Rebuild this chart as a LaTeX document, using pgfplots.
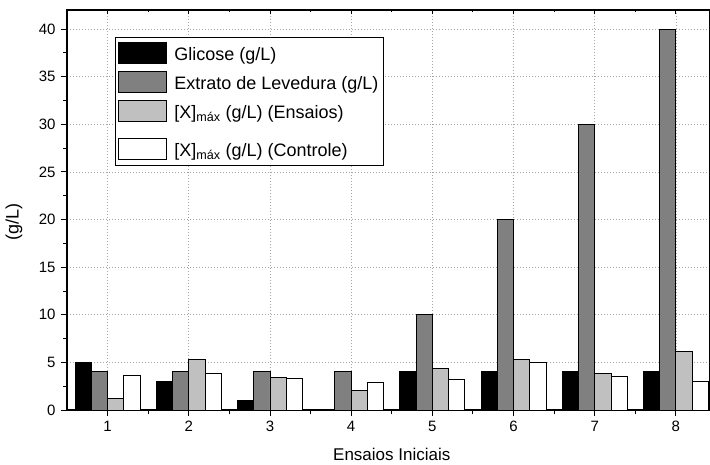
\documentclass[border=0pt]{standalone}
\usepackage{pgfplots}
\usepackage{pgfplotstable}
\pgfplotsset{compat=1.18}
\usepackage{fontspec}
\setmainfont{Liberation Sans}

\definecolor{cinzaescuro}{HTML}{808080}
\definecolor{cinzaclaro}{HTML}{C0C0C0}

% Concentrações por ensaio (g/L)
\pgfplotstableread{
ensaio glicose extrato xens xctrl
1 5 4  1.23 3.60
2 3 4  5.28 3.80
3 1 4  3.44 3.27
4 0 4  2.04 2.85
5 4 10 4.33 3.17
6 4 20 5.31 4.96
7 4 30 3.87 3.48
8 4 40 6.12 2.99
}\dados

\pgfplotsset{
  caixa legenda/.style={
    legend image code/.code={%
      \draw[##1] (0bp,-9bp) rectangle (48bp,12bp);
      \path (53bp,0bp);}
  },
  % last entry sits a little lower, below the subscript of the row above
  caixa legenda baixa/.style={
    legend image code/.code={%
      \draw[##1] (0bp,-9bp) rectangle (48bp,12bp);
      \path (53bp,0bp) (0bp,21bp);}
  },
}
\newcommand{\Xmax}{\mbox{[X]}\textsubscript{máx}}

\begin{document}
\begin{tikzpicture}
\begin{axis}[
  scale only axis,
  width=643bp, height=400bp,
  xmin=0.5, xmax=8.42,
  ymin=0, ymax=42,
  ybar=0pt, bar width=0.2,
  xtick={1,...,8},
  minor x tick num=1,
  ytick={0,5,...,40},
  minor y tick num=1,
  tick align=outside,
  tick pos=left,
  major tick length=6bp,
  minor tick length=3.5bp,
  every tick/.style={black, line width=0.9bp},
  axis line style={black, line width=1.2bp},
  grid=major,
  major grid style={dash pattern=on 1bp off 2bp, gray!70, line width=0.8bp},
  /pgf/number format/assume math mode=true,
  tick label style={font=\fontsize{15bp}{17bp}\selectfont},
  xticklabel style={yshift=-2bp},
  yticklabel style={xshift=-2bp},
  xlabel={Ensaios Iniciais},
  xlabel style={at={(axis cs:4.5,0)}, anchor=base, yshift=-50bp,
    font=\fontsize{17bp}{19bp}\selectfont},
  ylabel={(g/L)},
  ylabel style={at={(rel axis cs:0,0.47)}, anchor=center,
    yshift=53bp, font=\fontsize{18bp}{20bp}\selectfont},
  legend style={
    at={(rel axis cs:0.0747,0.9325)}, anchor=north west,
    draw=black, line width=0.8bp, fill=white,
    font=\fontsize{18bp}{19bp}\selectfont,
    inner xsep=3bp, inner ysep=5bp,
    row sep=7bp,
  },
  legend cell align=left,
]
\addplot[fill=black, draw=black, line width=0.9bp, caixa legenda]
  table[x=ensaio, y=glicose] {\dados};
\addlegendentry{Glicose (g/L)}
\addplot[fill=cinzaescuro, draw=black, line width=0.9bp, caixa legenda]
  table[x=ensaio, y=extrato] {\dados};
\addlegendentry{Extrato de Levedura (g/L)}
\addplot[fill=cinzaclaro, draw=black, line width=0.9bp, caixa legenda]
  table[x=ensaio, y=xens] {\dados};
\addlegendentry{\Xmax{} (g/L) (Ensaios)}
\addplot[fill=white, draw=black, line width=0.9bp, caixa legenda baixa]
  table[x=ensaio, y=xctrl] {\dados};
\addlegendentry{\Xmax{} (g/L) (Controle)}
% short inward ticks along the top edge
\pgfplotsinvokeforeach{1,...,8}{
  \draw[black, line width=0.9bp] (axis cs:#1,42) -- ([yshift=-4bp]axis cs:#1,42);
}
\pgfplotsinvokeforeach{1.5,2.5,...,7.5}{
  \draw[black, line width=0.9bp] (axis cs:#1,42) -- ([yshift=-2.5bp]axis cs:#1,42);
}
\end{axis}
\pgfresetboundingbox
\path ([xshift=-67bp,yshift=-55bp]current axis.south west)
  rectangle ([yshift=10bp]current axis.north east);
\end{tikzpicture}
\end{document}
